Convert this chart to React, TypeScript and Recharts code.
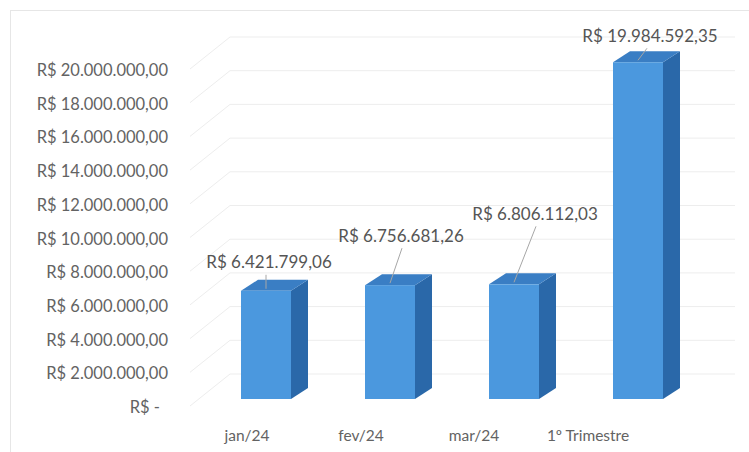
import React from "react";
import { BarChart, Bar, XAxis, YAxis, CartesianGrid, LabelList } from "recharts";

const categories = ["jan/24", "fev/24", "mar/24", "1º Trimestre"];
const values = [6421799.06, 6756681.26, 6806112.03, 19984592.35];
const yTicks = [0, 2000000, 4000000, 6000000, 8000000, 10000000, 12000000, 14000000, 16000000, 18000000, 20000000];

// label placement (style): offset of data-label centre from bar top-centre
const labelOffsets = [
  { dx: 3, dy: -29 },
  { dx: 11, dy: -50 },
  { dx: 21, dy: -71 },
  { dx: 12, dy: -27 },
];
// perspective shift of category labels
const xLabelShift = [-19, -29, -40, -50];

const data = categories.map((c, i) => ({ name: c, value: values[i] }));

const FONT = "Lato, 'Liberation Sans', sans-serif";
const DEPTH_X = 17;
const DEPTH_Y = -11;
const TEXT = "#636363";

const fmtBRL = (v: number) => {
  if (v === 0) return "R$ -";
  const [int, dec] = v.toFixed(2).split(".");
  const withDots = int.replace(/\B(?=(\d{3})+(?!\d))/g, ".");
  return `R$ ${withDots},${dec}`;
};

const Bar3D = (props: any) => {
  const { x, y, width, height } = props;
  const fx = x, fy = y, fw = width, fh = height;
  const side = `${fx + fw},${fy} ${fx + fw + DEPTH_X},${fy + DEPTH_Y} ${fx + fw + DEPTH_X},${fy + fh + DEPTH_Y} ${fx + fw},${fy + fh}`;
  const top = `${fx},${fy} ${fx + DEPTH_X},${fy + DEPTH_Y} ${fx + fw + DEPTH_X},${fy + DEPTH_Y} ${fx + fw},${fy}`;
  return (
    <g>
      <polygon points={side} fill="#2a68a9" />
      <polygon points={top} fill="#3a7ec4" />
      <rect x={fx} y={fy} width={fw} height={fh} fill="#4b98de" />
    </g>
  );
};

const DataLabel = (props: any) => {
  const { x, y, width, index, value } = props;
  const cx = x + width / 2;
  const o = labelOffsets[index] || { dx: 0, dy: -20 };
  const lx = cx + o.dx;
  const ly = y + o.dy;
  return (
    <g>
      <line x1={lx + (index === 0 || index === 3 ? -3 : 1)} y1={ly + 13} x2={cx} y2={y - 2} stroke="#a6a6a6" strokeWidth={1} />
      <text x={lx} y={ly} textAnchor="middle" dominantBaseline="central" fill="#555555" fontSize={17} fontFamily={FONT}>
        {fmtBRL(value)}
      </text>
    </g>
  );
};

const YTick = (props: any) => {
  const { x, y, payload } = props;
  const isZero = payload.value === 0;
  return (
    <text x={x - (isZero ? 8 : 0)} y={y + 8} textAnchor="end" dominantBaseline="central" fill={TEXT} fontSize={16.5} fontFamily={FONT}>
      {fmtBRL(payload.value)}
    </text>
  );
};

const XTick = (props: any) => {
  const { x, y, payload, index } = props;
  return (
    <text x={x + (xLabelShift[index] || 0)} y={y + 28} textAnchor="middle" dominantBaseline="central" fill={TEXT} fontSize={15.5} fontFamily={FONT}>
      {payload.value}
    </text>
  );
};

const GridLine = (props: any) => {
  const { x1, x2, y1 } = props;
  return (
    <g>
      <line x1={x1 - 14} y1={y1 + 7} x2={x1 + 26} y2={y1 - 25} stroke="#ededed" strokeWidth={1} />
      <line x1={x1 + 26} y1={y1 - 25} x2={x2 + 35} y2={y1 - 25} stroke="#ededed" strokeWidth={1} />
    </g>
  );
};

export default function App() {
  return (
    <div style={{ position: "absolute", left: 0, top: 0, width: 749, height: 452, background: "#fff", overflow: "hidden" }}>
      <div style={{ position: "absolute", left: 10, top: 10, width: 745, height: 460, border: "1px solid #e6e6e6", boxSizing: "border-box" }} />
      <BarChart
        width={749}
        height={452}
        data={data}
        margin={{ top: 62, right: 49, bottom: 0, left: 0 }}
        barCategoryGap={0}
        style={{ position: "absolute", left: 0, top: 0 }}
      >
        <CartesianGrid vertical={false} horizontal={(p: any) => <GridLine key={p.key} {...p} />} />
        <XAxis dataKey="name" height={53} axisLine={false} tickLine={false} tick={<XTick />} interval={0} />
        <YAxis
          width={204}
          domain={[0, 20000000]}
          ticks={yTicks}
          axisLine={false}
          tickLine={false}
          tickSize={0}
          tickMargin={36}
          tick={<YTick />}
          interval={0}
        />
        <Bar dataKey="value" barSize={50} shape={<Bar3D />} isAnimationActive={false}>
          <LabelList dataKey="value" content={<DataLabel />} />
        </Bar>
      </BarChart>
    </div>
  );
}
